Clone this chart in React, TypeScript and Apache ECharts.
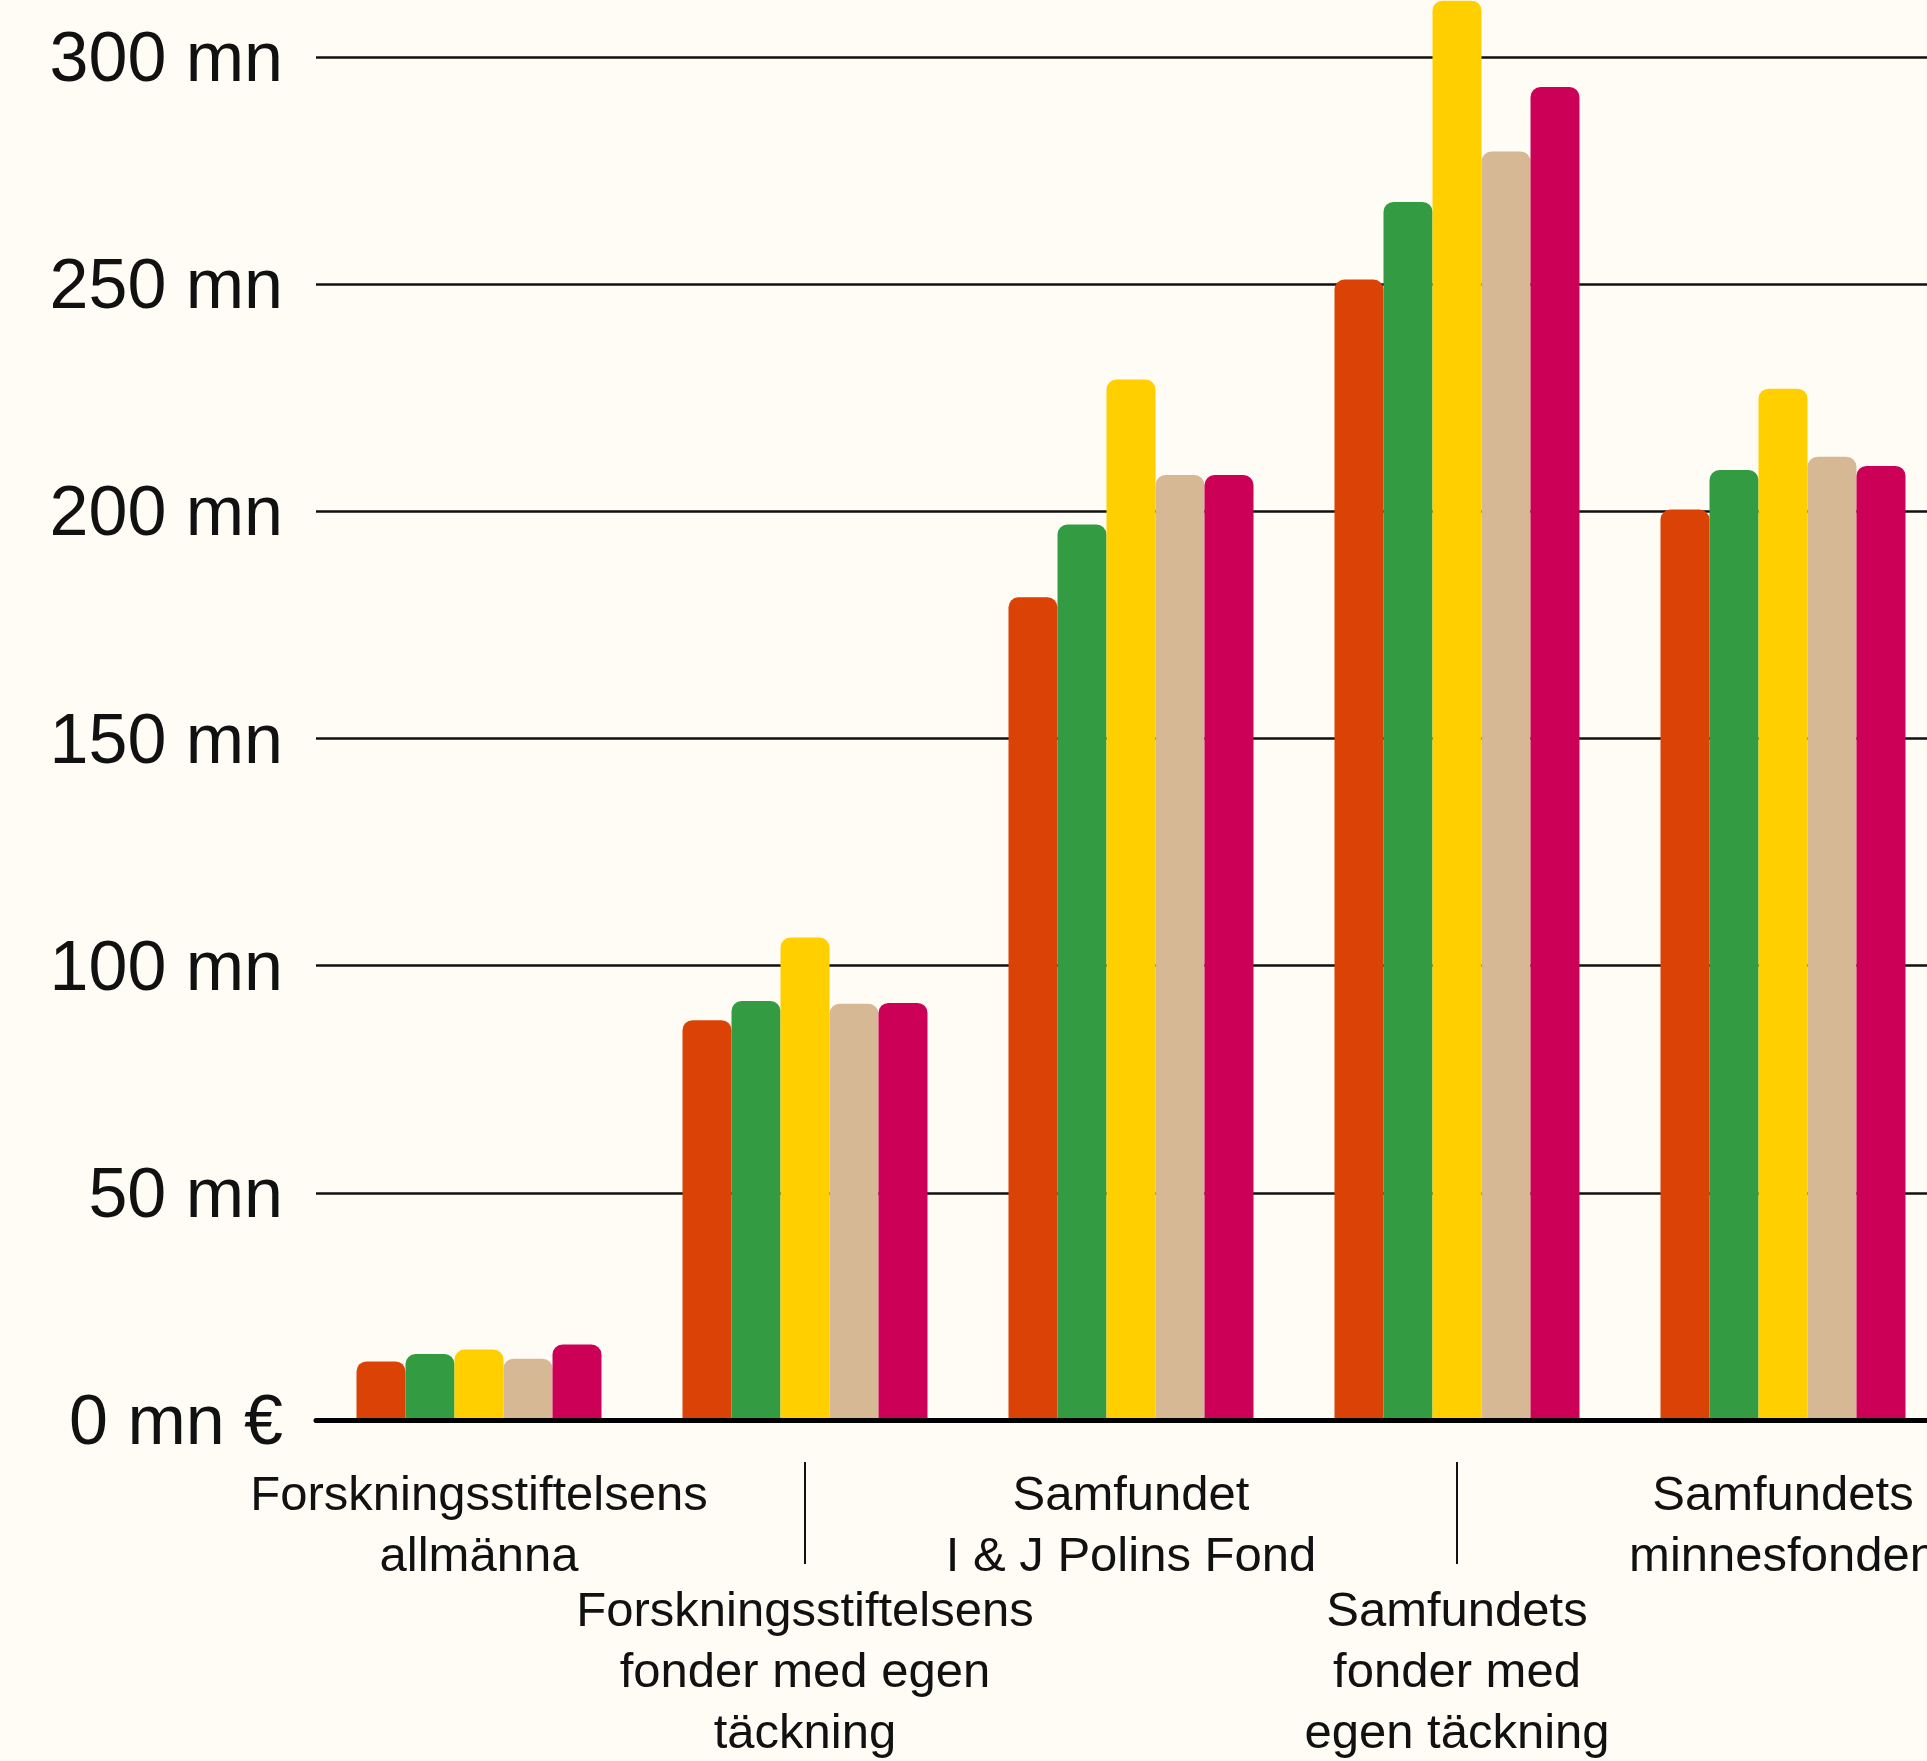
import React, { useEffect, useRef } from "react";
import * as echarts from "echarts";

const categories = [
  "Forskningsstiftelsens\nallmänna",
  "Forskningsstiftelsens\nfonder med egen\ntäckning",
  "Samfundet\nI & J Polins Fond",
  "Samfundets\nfonder med\negen täckning",
  "Samfundets\nminnesfonden",
];

const seriesNames = ["Serie 1", "Serie 2", "Serie 3", "Serie 4", "Serie 5"];
const series1 = [12.9, 88.0, 181.1, 251.0, 200.4];
const series2 = [14.5, 92.2, 197.1, 268.1, 209.1];
const series3 = [15.5, 106.2, 229.0, 312.4, 227.0];
const series4 = [13.5, 91.6, 208.0, 279.2, 212.0];
const series5 = [16.6, 91.8, 208.0, 293.4, 210.0];
const seriesValues = [series1, series2, series3, series4, series5];
const colors = ["#db4205", "#339c42", "#ffcf00", "#d6b894", "#cd0058"];

const yTicks = [0, 50, 100, 150, 200, 250, 300];

const FONT = "'Liberation Sans', Arial, sans-serif";

export default function App() {
  const ref = useRef<HTMLDivElement>(null);
  useEffect(() => {
    if (!ref.current) return;
    const chart = echarts.init(ref.current, null, { renderer: "svg" });
    const catLabel = {
      color: "#111",
      fontFamily: FONT,
      fontSize: 49,
      lineHeight: 61,
      align: "center" as const,
    };
    chart.setOption({
      animation: false,
      backgroundColor: "#fffcf6",
      grid: { left: 316, right: 0, top: 57, bottom: 332, containLabel: false },
      xAxis: [
        {
          type: "category",
          data: categories,
          position: "bottom",
          axisLine: { show: true, lineStyle: { color: "#000", width: 5 } },
          axisTick: { show: false },
          axisLabel: {
            ...catLabel,
            margin: 42,
            interval: (i: number) => i % 2 === 0,
          },
          z: 5,
        },
        {
          type: "category",
          data: categories,
          position: "bottom",
          offset: 144,
          axisLine: { show: false },
          axisTick: {
            show: true,
            inside: true,
            length: 102,
            alignWithLabel: true,
            interval: (i: number) => i % 2 === 1,
            lineStyle: { color: "#111", width: 2 },
          },
          axisLabel: {
            ...catLabel,
            margin: 14,
            interval: (i: number) => i % 2 === 1,
          },
        },
      ],
      yAxis: {
        type: "value",
        min: 0,
        max: 300,
        interval: 50,
        axisLine: { show: false },
        axisTick: { show: false },
        splitLine: { show: true, lineStyle: { color: "#111", width: 2.5 } },
        axisLabel: {
          color: "#111",
          fontFamily: FONT,
          fontSize: 70,
          margin: 33,
          formatter: (v: number) =>
            yTicks.includes(v) ? (v === 0 ? "0 mn €" : `${v} mn`) : "",
        },
      },
      series: seriesValues.map((vals, i) => ({
        name: seriesNames[i],
        type: "bar",
        xAxisIndex: 0,
        data: vals,
        barWidth: 49,
        barGap: "0%",
        clip: false,
        itemStyle: { color: colors[i], borderRadius: [10, 10, 0, 0] },
      })),
    });
    return () => chart.dispose();
  }, []);
  return (
    <div
      ref={ref}
      style={{ position: "fixed", left: 0, top: 0, width: 1946, height: 1761 }}
    />
  );
}
